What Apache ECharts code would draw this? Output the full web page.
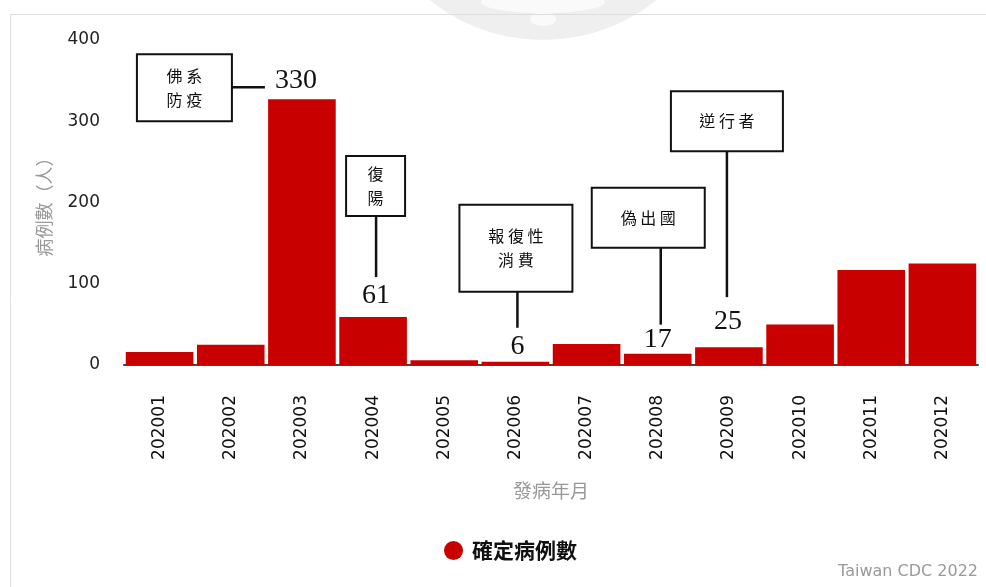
<!DOCTYPE html>
<html>
<head>
<meta charset="utf-8">
<script src="https://cdn.jsdelivr.net/npm/echarts@6/dist/echarts.min.js"></script>
<style>
  html, body { margin: 0; padding: 0; background: #fff; }
  #main { width: 986px; height: 587px; }
</style>
</head>
<body>
<div id="main"></div>
<script>
// 發病年月
const months = ['202001', '202002', '202003', '202004', '202005', '202006',
    '202007', '202008', '202009', '202010', '202011', '202012']
// 確定病例數
const cases = [16, 25, 327, 59, 6, 4, 26, 14, 22, 50, 117, 125]
const yTicks = [0, 100, 200, 300, 400]

// annotation boxes
const noteMonths = ['202003', '202004', '202006', '202008', '202009']
const noteValues = ['330', '61', '6', '17', '25']
const noteTexts = ['佛 系\n防 疫', '復\n陽', '報 復 性\n消 費', '偽 出 國', '逆 行 者']

// box / connector offsets, relative to the number label
const noteLayout = [
    { dx: -6, dy: -19, box: [-159, -26, 95, 67], line: [-64, 7, -31, 7] },
    { dx: 3, dy: -21, box: [-30, -140, 59, 60], line: [0, -80, 0, -19] },
    { dx: 2, dy: -15, box: [-58, -142, 113, 87], line: [0, -55, 0, -19] },
    { dx: 0, dy: -14, box: [-66, -152, 113, 60], line: [3, -92, 3, -15] },
    { dx: -1, dy: -25, box: [-57, -231, 112, 60], line: [-1, -171, -1, -25] }
]

const cjk = '"Noto Sans CJK TC", "Noto Sans CJK SC", sans-serif'

const chart = echarts.init(document.getElementById('main'))

const backdrop = [
    // faint logo watermark at the top
    { type: 'circle', silent: true, z: -10, shape: { cx: 543, cy: -141, r: 181 }, style: { fill: '#efefef' } },
    { type: 'ellipse', silent: true, z: -9, shape: { cx: 543, cy: 2, rx: 62, ry: 11 }, style: { fill: '#fafafa' } },
    { type: 'ellipse', silent: true, z: -9, shape: { cx: 543, cy: 19, rx: 13, ry: 7 }, style: { fill: '#fafafa' } },
    // frame
    { type: 'rect', silent: true, z: -8, shape: { x: 10.5, y: 14.5, width: 1000, height: 600 }, style: { fill: 'none', stroke: '#dedede', lineWidth: 1 } },
    {
        type: 'text', right: 8, bottom: 7,
        style: { text: 'Taiwan CDC 2022', fill: '#9a9a9a', font: '16px "DejaVu Sans"' }
    }
]

chart.setOption({
    animation: false,
    grid: { left: 124, right: 8, top: 40, bottom: 222 },
    legend: {
        left: 439,
        top: 535,
        icon: 'circle',
        itemWidth: 19,
        itemHeight: 19,
        textStyle: {
            color: '#111', fontSize: 21, fontWeight: 'bold', fontFamily: cjk,
            padding: [0, 0, 0, 4]
        },
        data: ['確定病例數']
    },
    xAxis: {
        type: 'category',
        data: months,
        name: '發病年月',
        nameLocation: 'middle',
        nameGap: 116,
        nameTextStyle: { color: '#999', fontSize: 19, fontFamily: cjk },
        axisLine: { lineStyle: { color: '#444', width: 2 } },
        axisTick: { show: false },
        axisLabel: {
            rotate: 90,
            margin: 30,
            color: '#111',
            fontSize: 17,
            fontFamily: 'DejaVu Sans'
        }
    },
    yAxis: {
        type: 'value',
        min: yTicks[0],
        max: yTicks[yTicks.length - 1],
        interval: 100,
        name: '病例數（人）',
        nameLocation: 'middle',
        nameGap: 71,
        nameTextStyle: { color: '#999', fontSize: 18, fontFamily: cjk },
        axisLine: { show: false },
        axisTick: { show: false },
        splitLine: { show: false },
        axisLabel: { margin: 24, color: '#222', fontSize: 17, fontFamily: 'DejaVu Sans' }
    },
    series: [{
        name: '確定病例數',
        type: 'bar',
        data: cases,
        barCategoryGap: '5%',
        itemStyle: { color: '#c80000' }
    }],
    graphic: backdrop
})

function buildNotes() {
    const els = []
    noteMonths.forEach((m, i) => {
        const idx = months.indexOf(m)
        const p = chart.convertToPixel({ seriesIndex: 0 }, [idx, cases[idx]])
        const L = noteLayout[i]
        const cx = p[0] + L.dx
        const cy = p[1] + L.dy
        els.push({
            type: 'rect', z: 20,
            shape: { x: cx + L.box[0], y: cy + L.box[1], width: L.box[2], height: L.box[3] },
            style: { fill: '#fff', stroke: '#111', lineWidth: 2 }
        })
        els.push({
            type: 'text', z: 21,
            x: cx + L.box[0] + L.box[2] / 2,
            y: cy + L.box[1] + L.box[3] / 2,
            style: {
                text: noteTexts[i], fill: '#111', font: '16px ' + cjk,
                align: 'center', verticalAlign: 'middle', lineHeight: 24
            }
        })
        els.push({
            type: 'line', z: 20,
            shape: { x1: cx + L.line[0], y1: cy + L.line[1], x2: cx + L.line[2], y2: cy + L.line[3] },
            style: { stroke: '#111', lineWidth: 2.5 }
        })
        els.push({
            type: 'text', z: 21, x: cx, y: cy,
            style: {
                text: noteValues[i], fill: '#111', font: '28px "Liberation Serif"',
                align: 'center', verticalAlign: 'middle'
            }
        })
    })
    return els
}

chart.setOption({ graphic: backdrop.concat(buildNotes()) })
</script>
</body>
</html>
